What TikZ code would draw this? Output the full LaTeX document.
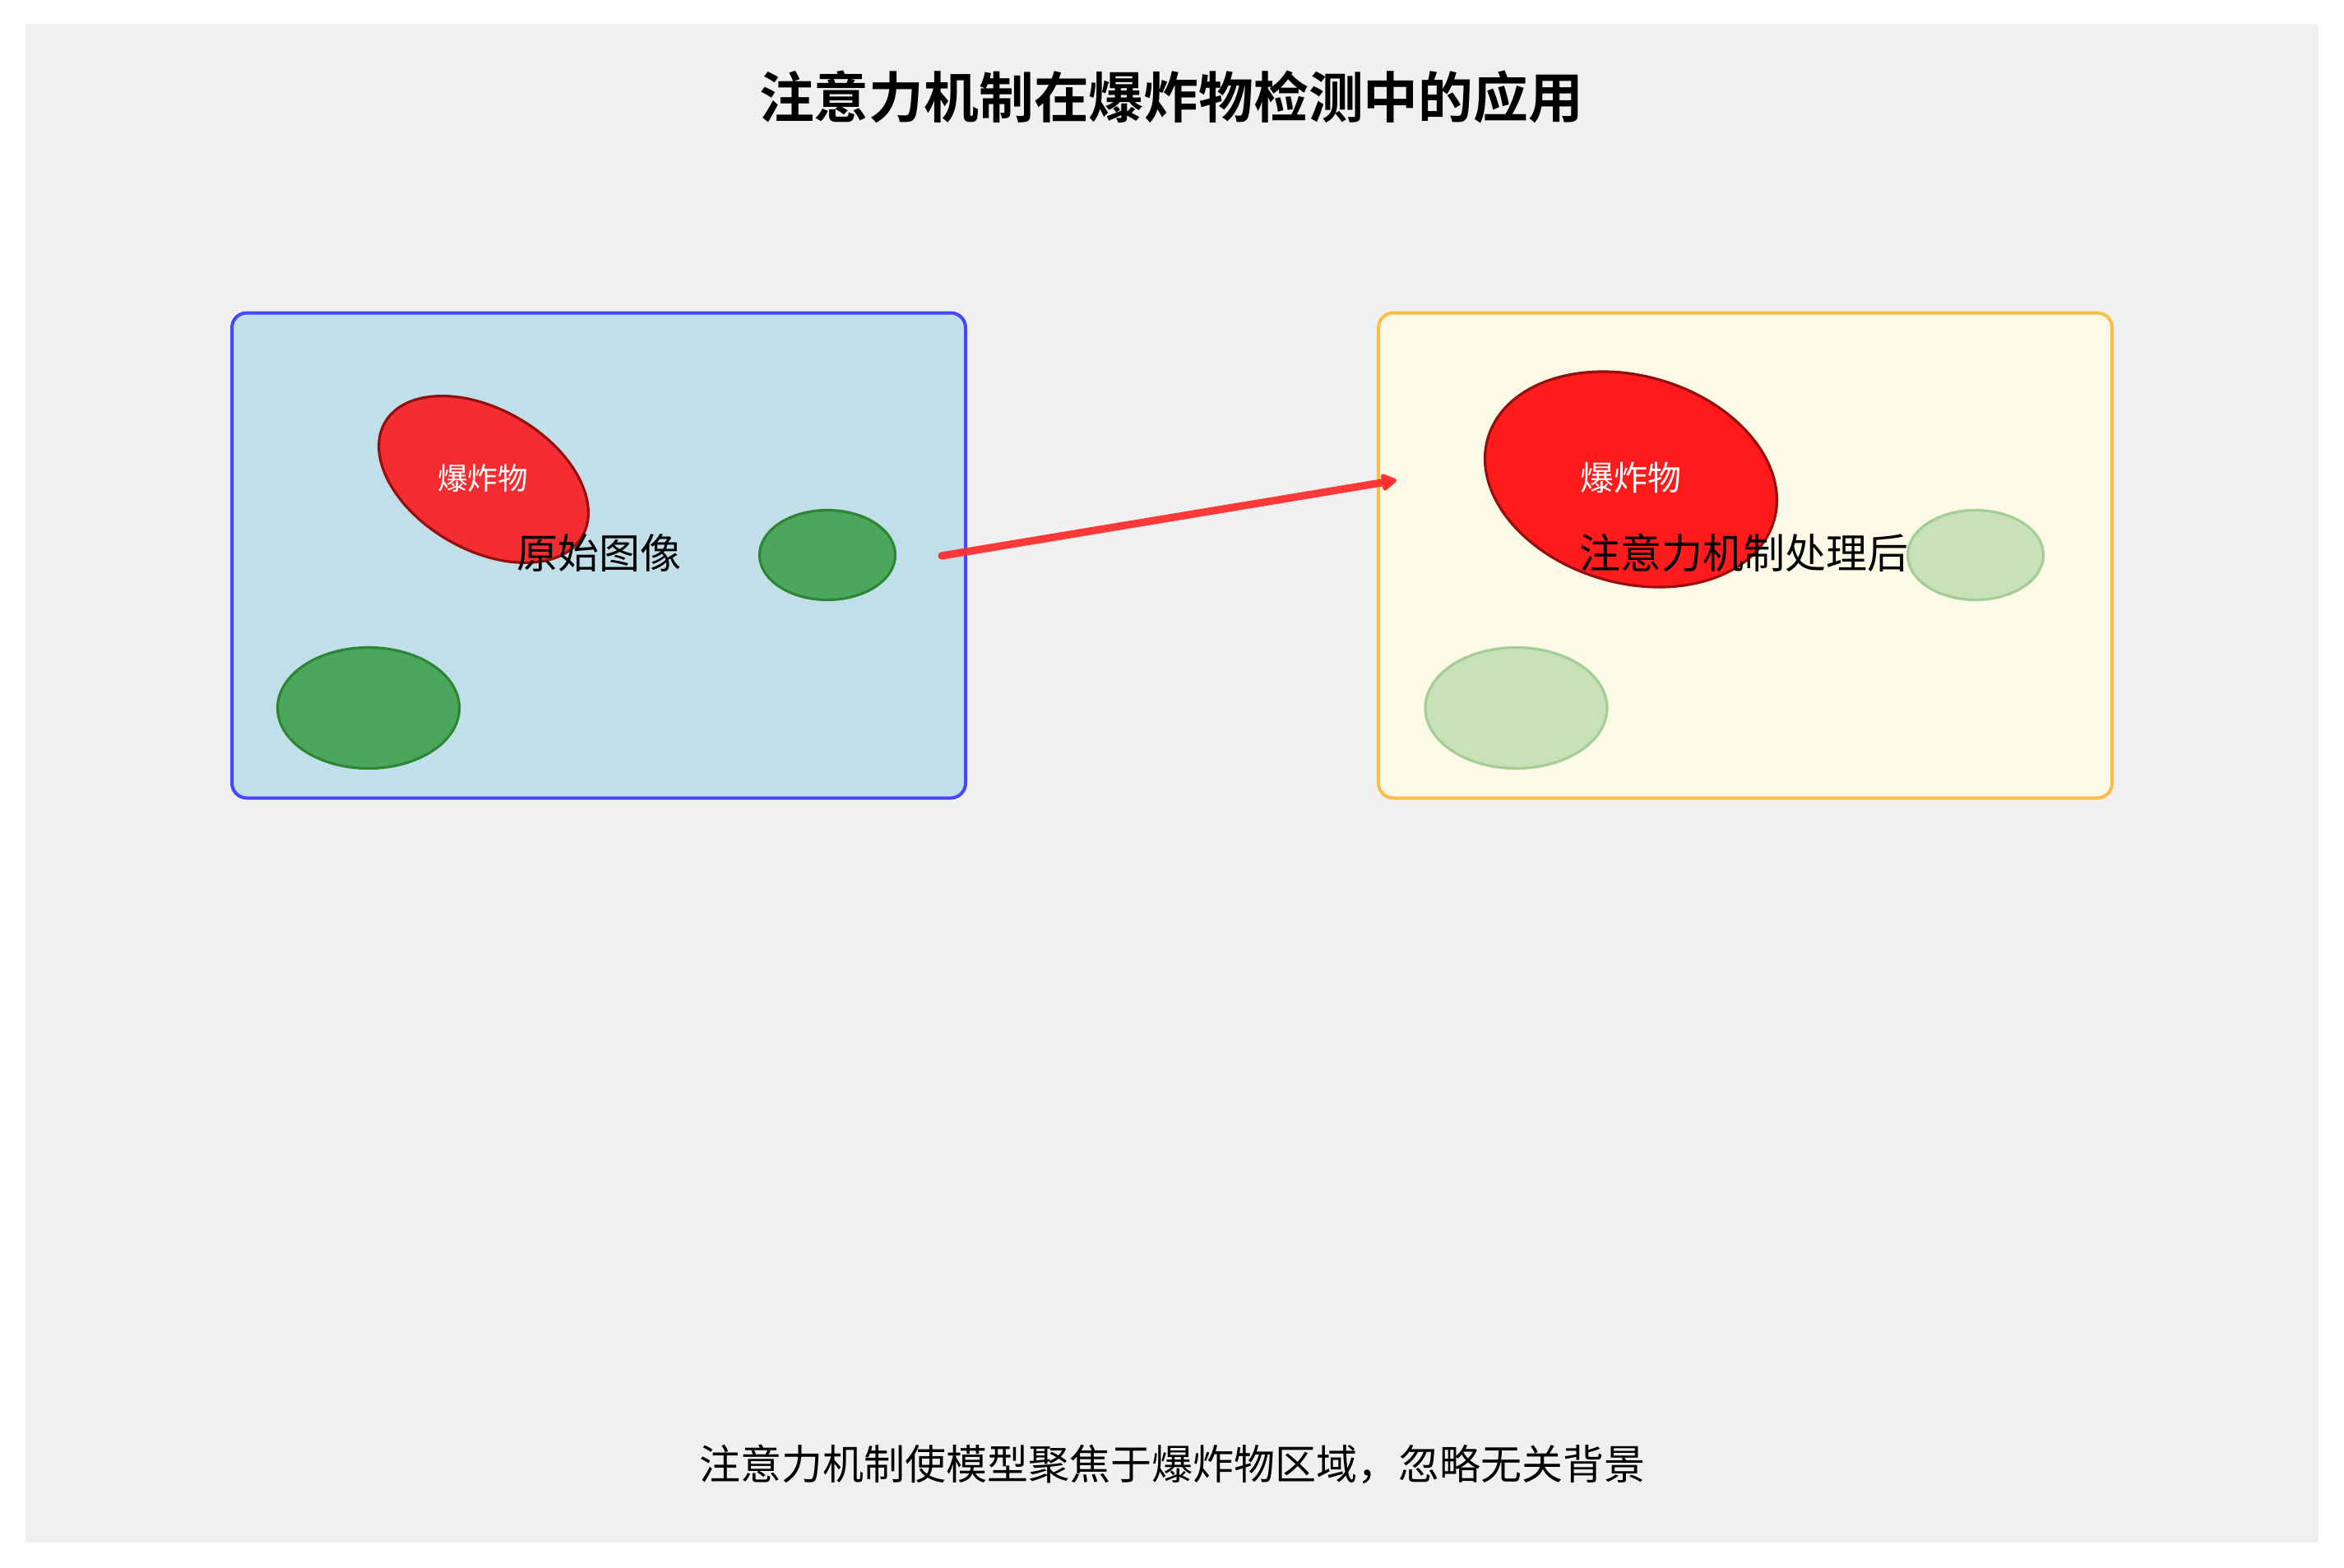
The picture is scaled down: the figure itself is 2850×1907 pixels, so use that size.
\documentclass[tikz,border=0pt]{standalone}
\usepackage{fontspec}
\setmainfont{Noto Sans CJK SC}
\newfontfamily\cjkbold{Noto Sans CJK SC Bold}
\usetikzlibrary{shapes.geometric,arrows.meta}
\definecolor{bggray}{RGB}{240,240,240}
\definecolor{bluefill}{RGB}{193,223,233}
\definecolor{bluestroke}{RGB}{70,70,255}
\definecolor{yelfill}{RGB}{250,250,230}
\definecolor{yelstroke}{RGB}{255,188,72}
\definecolor{redA}{RGB}{243,45,50}
\definecolor{redB}{RGB}{255,27,27}
\definecolor{redstroke}{RGB}{150,15,15}
\definecolor{grnfill}{RGB}{76,167,94}
\definecolor{grnstroke}{RGB}{45,135,50}
\definecolor{lgrnfill}{RGB}{200,225,185}
\definecolor{lgrnstroke}{RGB}{165,205,150}
\definecolor{arrowred}{RGB}{252,48,48}
\begin{document}
\begin{tikzpicture}[x=0.5pt,y=-0.5pt,
  panel/.style={draw, rounded corners=9pt, line width=2pt, inner sep=0pt,
    minimum width=446pt, minimum height=295pt},
  blob/.style={ellipse, draw, line width=1.6pt, inner sep=0pt},
  boxlabel/.style={font=\fontsize{25}{30}\selectfont, text=black, inner sep=0pt},
  bomblabel/.style={text=white, inner sep=0pt},
  flow/.style={draw=arrowred, line width=4.6pt, line cap=round,
    -{Triangle[length=10.5pt,width=11.5pt,round]}, line join=round}
]
\useasboundingbox (0,0) rectangle (2850,1907);
\fill[white] (0,0) rectangle (2850,1907);
\fill[bggray] (31,29) rectangle (2819,1876);

% title
\node[font=\cjkbold\fontsize{33.4}{38}\selectfont, inner sep=0pt] (title) at (1424,118) {注意力机制在爆炸物检测中的应用};

% left panel
\node[panel, draw=bluestroke, fill=bluefill] (orig) at (728,675.5) {};
\node[blob, fill=redA, draw=redstroke, rotate=-30,
  minimum width=138.5pt, minimum height=85.5pt] (bombL) at (588,583) {};
\node[bomblabel, font=\fontsize{18.3}{22}\selectfont] (bombLt) at (587,582) {爆炸物};
\node[blob, fill=grnfill, draw=grnstroke,
  minimum width=82.5pt, minimum height=54.5pt] (gL1) at (1006,675) {};
\node[blob, fill=grnfill, draw=grnstroke,
  minimum width=110.5pt, minimum height=73.5pt] (gL2) at (448,861) {};
\node[boxlabel] (origt) at (728,672) {原始图像};

% right panel
\node[panel, draw=yelstroke, fill=yelfill] (att) at (2122,675.5) {};
\node[blob, fill=redB, draw=redstroke, rotate=-16,
  minimum width=181pt, minimum height=126pt] (bombR) at (1983,583) {};
\node[bomblabel, font=\fontsize{20.5}{24}\selectfont] (bombRt) at (1983,581) {爆炸物};
\node[blob, fill=lgrnfill, draw=lgrnstroke,
  minimum width=82.5pt, minimum height=54.5pt] (gR1) at (2402,675) {};
\node[blob, fill=lgrnfill, draw=lgrnstroke,
  minimum width=110.5pt, minimum height=73.5pt] (gR2) at (1843.5,861) {};
\node[boxlabel] (attt) at (2120,672) {注意力机制处理后};

% arrow
\coordinate (arrS) at (1145,676);
\coordinate (arrE) at (1698,584);
\draw[flow, draw opacity=0.95] (arrS) -- (arrE);

% caption
\node[font=\fontsize{25}{30}\selectfont, inner sep=0pt] (caption) at (1425,1781) {注意力机制使模型聚焦于爆炸物区域，忽略无关背景};
\end{tikzpicture}
\end{document}
